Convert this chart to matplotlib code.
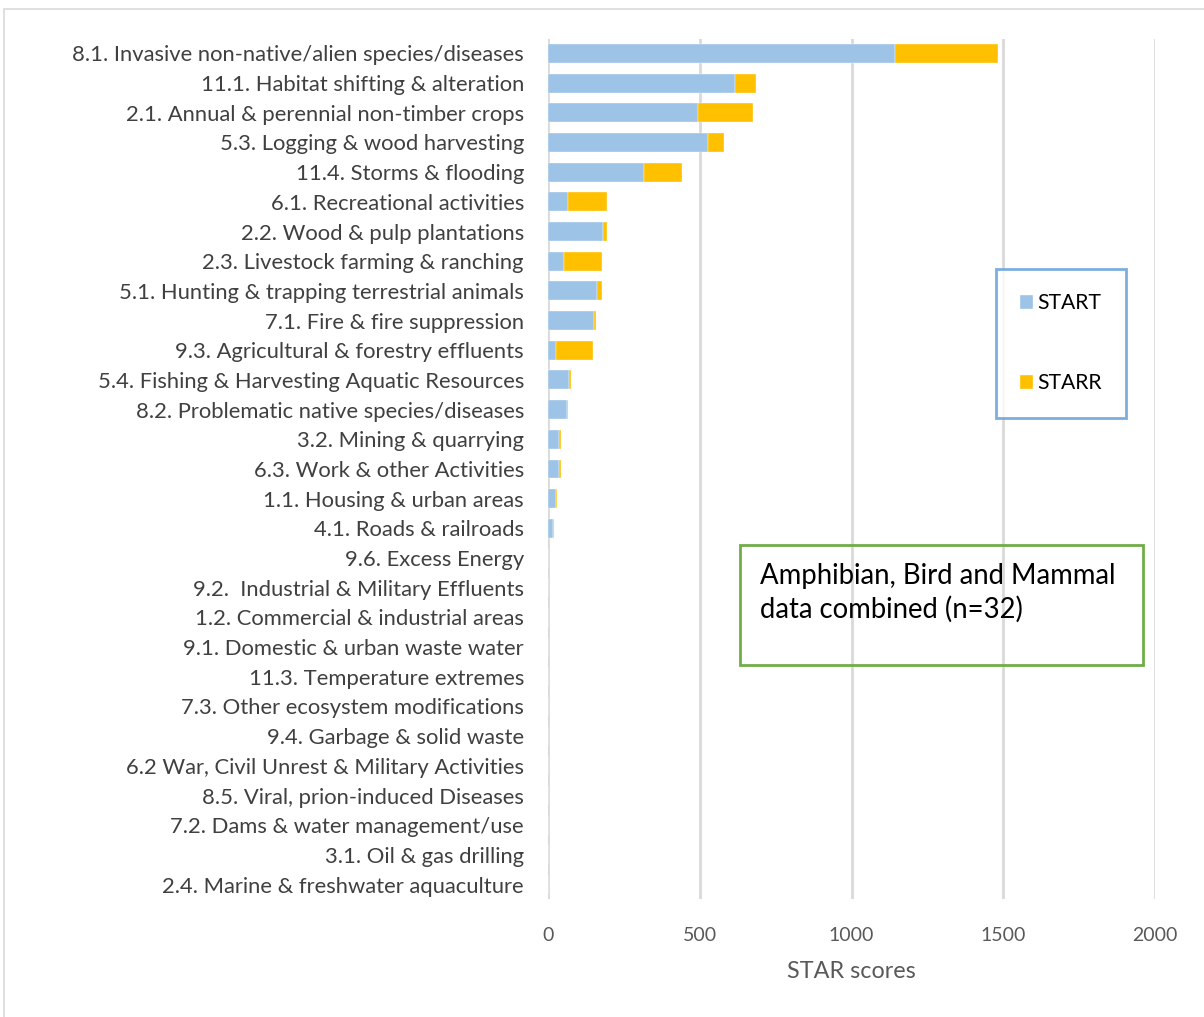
import matplotlib
matplotlib.use("Agg")
import matplotlib.pyplot as plt
from matplotlib.patches import Rectangle

categories = [
    "8.1. Invasive non-native/alien species/diseases",
    "11.1. Habitat shifting & alteration",
    "2.1. Annual & perennial non-timber crops",
    "5.3. Logging & wood harvesting",
    "11.4. Storms & flooding",
    "6.1. Recreational activities",
    "2.2. Wood & pulp plantations",
    "2.3. Livestock farming & ranching",
    "5.1. Hunting & trapping terrestrial animals",
    "7.1. Fire & fire suppression",
    "9.3. Agricultural & forestry effluents",
    "5.4. Fishing & Harvesting Aquatic Resources",
    "8.2. Problematic native species/diseases",
    "3.2. Mining & quarrying",
    "6.3. Work & other Activities",
    "1.1. Housing & urban areas",
    "4.1. Roads & railroads",
    "9.6. Excess Energy",
    "9.2.  Industrial & Military Effluents",
    "1.2. Commercial & industrial areas",
    "9.1. Domestic & urban waste water",
    "11.3. Temperature extremes",
    "7.3. Other ecosystem modifications",
    "9.4. Garbage & solid waste",
    "6.2 War, Civil Unrest & Military Activities",
    "8.5. Viral, prion-induced Diseases",
    "7.2. Dams & water management/use",
    "3.1. Oil & gas drilling",
    "2.4. Marine & freshwater aquaculture",
]
start = [1143, 616, 493, 526, 316, 67, 180, 53, 163, 153, 26, 68, 61, 37, 37, 26, 17,
         0, 0, 0, 0, 0, 0, 0, 0, 0, 0, 0, 0]
starr = [340, 68, 181, 55, 127, 127, 14, 125, 15, 5, 122, 9, 6, 6, 6, 5, 2,
         0, 0, 0, 0, 0, 0, 0, 0, 0, 0, 0, 0]
series_names = ["START", "STARR"]
xticks = [0, 500, 1000, 1500, 2000]

W, H = 1204, 1017
fig = plt.figure(figsize=(W / 100, H / 100), dpi=100)
plt.rcParams['font.family'] = ['Lato', 'DejaVu Sans']

n = len(categories)
top_px, bot_px = 38.6, 899.4
left_px, right_px = 548, 1155
ax = fig.add_axes([left_px / W, 1 - bot_px / H, (right_px - left_px) / W, (bot_px - top_px) / H])

ypos = list(range(n))
b1 = ax.barh(ypos, start, height=0.64, color="#9DC3E6", edgecolor="white", linewidth=0.25, label=series_names[0], zorder=3)
b2 = ax.barh(ypos, starr, left=start, height=0.64, color="#FFC000", edgecolor="white", linewidth=0.25, label=series_names[1], zorder=3)

ax.set_ylim(n - 0.5, -0.5)
ax.set_xlim(0, 2000)
ax.set_xticks(xticks)
ax.set_xticklabels([str(t) for t in xticks], fontsize=14, color="#595959")
ax.set_yticks(ypos)
ax.set_yticklabels(categories, fontsize=15.8, color="#404040")
ax.tick_params(axis="both", length=0)
ax.tick_params(axis="y", pad=17.3)
ax.tick_params(axis="x", pad=20)
for s in ax.spines.values():
    s.set_visible(False)
ax.grid(axis="x", color="#D9D9D9", linewidth=2, zorder=0)
ax.set_axisbelow(True)
ax.set_xlabel("STAR scores", fontsize=16.8, color="#595959", labelpad=12)

# legend
leg = ax.legend(handles=[b1, b2], loc="upper left",
                bbox_to_anchor=(996 / W, 1 - 269 / H), bbox_transform=fig.transFigure,
                fontsize=15.2, frameon=True, fancybox=False, labelspacing=2.85,
                borderpad=1.15, handlelength=0.6, handleheight=0.6, handletextpad=0.2,
                borderaxespad=0)
leg.get_frame().set_edgecolor("#5B9BD5")
leg.get_frame().set_linewidth(2)
for t in leg.get_texts():
    t.set_color("#000000")

# annotation box
fig.patches.append(Rectangle((740 / W, 1 - 665 / H), (1143 - 740) / W, 120 / H,
                             transform=fig.transFigure, fill=False, edgecolor="#70AD47", linewidth=2))
fig.text(760 / W, 1 - 593 / H, "Amphibian, Bird and Mammal\ndata combined (n=32)",
         fontsize=19.8, color="#000000", va="center", ha="left", linespacing=1.3)

# outer chart frame (cut off at right and bottom)
fig.patches.append(Rectangle((3.5 / W, -0.05), 1.1, 1 - 9.5 / H + 0.05,
                             transform=fig.transFigure, fill=False, edgecolor="#D9D9D9", linewidth=1.2))

fig.savefig("out.png", dpi=100)
